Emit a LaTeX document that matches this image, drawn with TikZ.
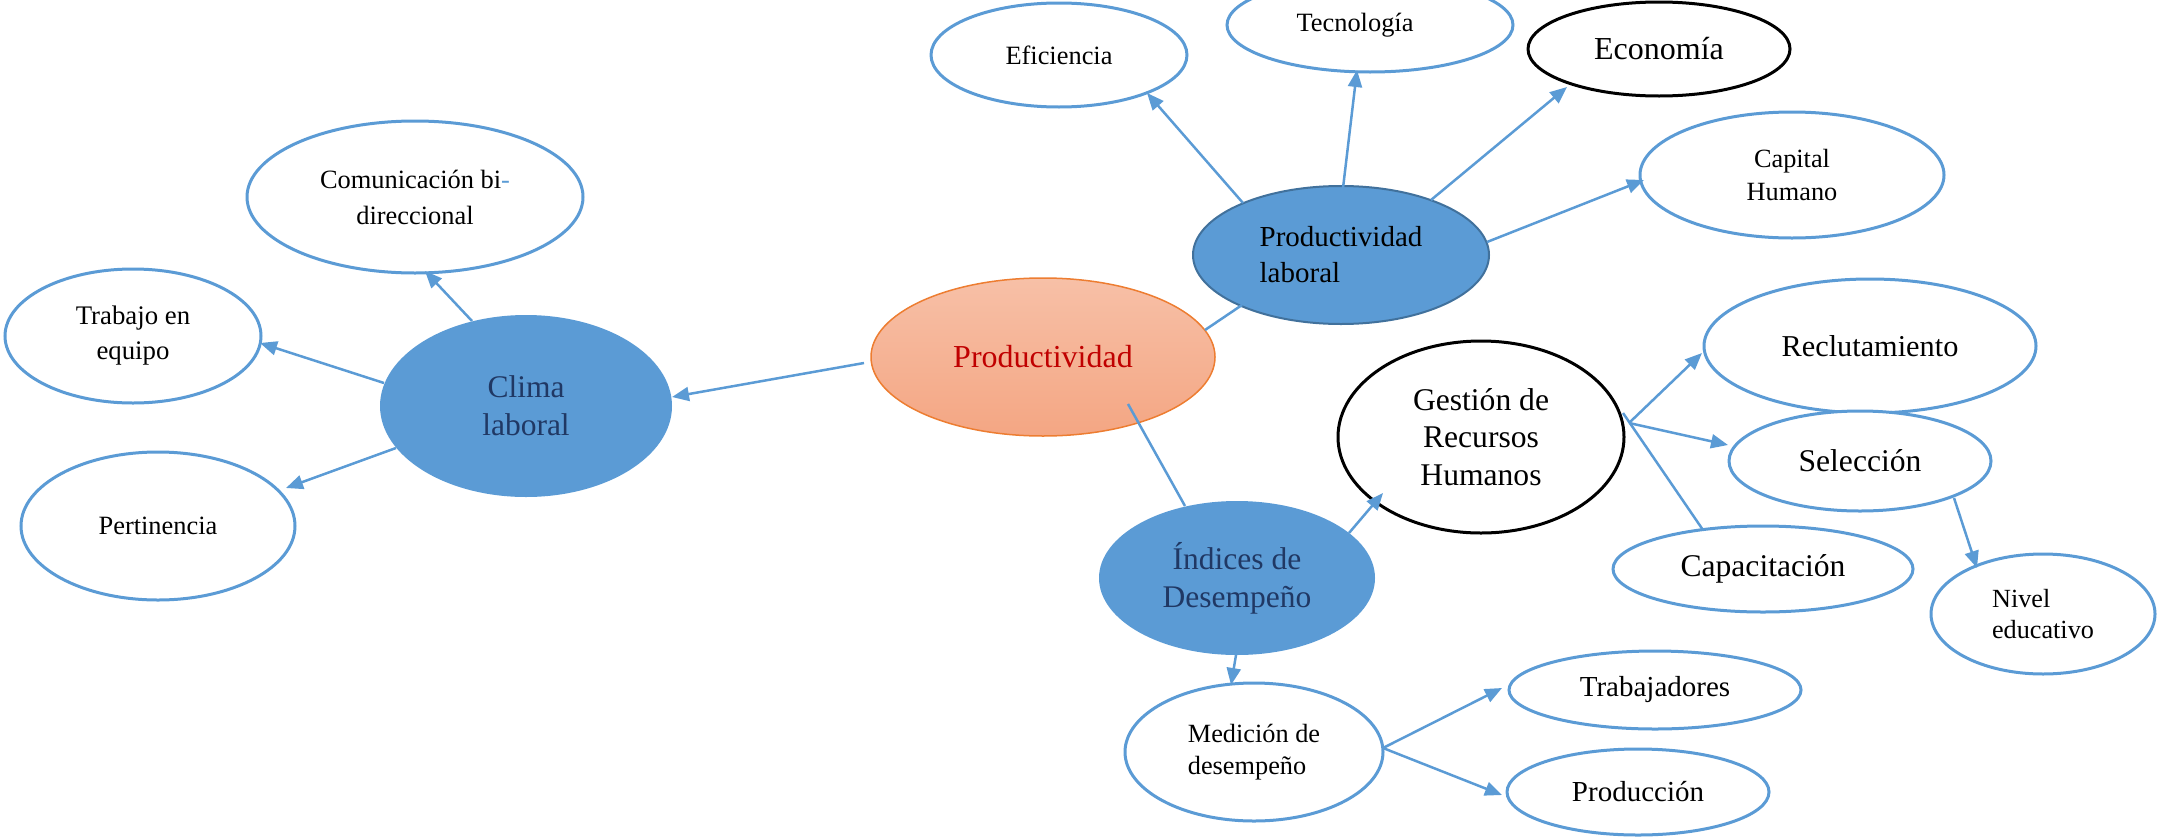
\documentclass[tikz,border=0pt]{standalone}
\usepackage{fontspec}
\setmainfont{Liberation Serif}
\usetikzlibrary{shapes.geometric,arrows.meta,calc}

\definecolor{linkblue}{HTML}{5B9BD5}
\definecolor{edgeblue}{HTML}{41719C}
\definecolor{navytext}{HTML}{203864}
\definecolor{prodred}{HTML}{C00000}
\definecolor{orangeedge}{HTML}{ED7D31}
\definecolor{peachtop}{HTML}{F7C0A7}
\definecolor{peachbot}{HTML}{F4A683}

\tikzset{
  bubble/.style={ellipse, draw=linkblue, line width=3pt, fill=white,
    inner sep=0pt, align=center, font=\fontsize{26.4}{34}\selectfont},
  inkbubble/.style={bubble, draw=black},
  solidbubble/.style={ellipse, fill=linkblue, inner sep=0pt, align=center,
    text=navytext, font=\fontsize{31.5}{38}\selectfont},
  big/.style={font=\fontsize{31.6}{38}\selectfont},
  link/.style={draw=linkblue, line width=2.5pt},
  arrowlink/.style={link, -{Triangle[length=17pt,width=14pt]}},
}

\begin{document}
\begin{tikzpicture}[x=1pt,y=1pt]
\useasboundingbox (0,0) rectangle (2157,-838);

% central concept
\node[ellipse, draw=orangeedge, line width=1.5pt, top color=peachtop,
  bottom color=peachbot, text=prodred, inner sep=0pt,
  font=\fontsize{32}{38}\selectfont,
  minimum width=344pt, minimum height=158pt] (prod) at (1043,-357) {Productividad};

% main branches
\node[ellipse, fill=linkblue, draw=edgeblue, line width=2pt, inner sep=0pt,
  align=left, font=\fontsize{29}{36}\selectfont,
  minimum width=296pt, minimum height=138pt] (plab) at (1341,-255) {Productividad\\laboral};
\node[solidbubble, minimum width=292pt, minimum height=182pt] (clima) at (526,-406) {Clima\\laboral};
\node[solidbubble, minimum width=276pt, minimum height=154pt] (ind) at (1237,-578) {Índices de\\Desempeño};

% clima laboral
\node[bubble, font=\fontsize{26.4}{36}\selectfont, minimum width=336pt, minimum height=152pt]
  (com) at (415,-197) {Comunicación bi{\color{linkblue}-}\\direccional};
\node[bubble, font=\fontsize{26.8}{35}\selectfont, minimum width=256pt, minimum height=134pt]
  (trab) at (133,-336) {Trabajo en\\equipo};
\node[bubble, minimum width=274pt, minimum height=148pt] (pert) at (158,-526) {Pertinencia};

% productividad laboral
\node[bubble, minimum width=256pt, minimum height=104pt] (efi) at (1059,-55) {Eficiencia};
\node[bubble, minimum width=286pt, minimum height=94pt] (tec) at (1370,-25) {Tecnología\hspace*{30pt}};
\node[inkbubble, font=\fontsize{32}{38}\selectfont, minimum width=262pt, minimum height=94pt]
  (eco) at (1659,-49) {Economía};
\node[bubble, font=\fontsize{26.3}{33}\selectfont, minimum width=304pt, minimum height=126pt]
  (cap) at (1792,-175) {Capital\\Humano};

% indices de desempeno
\node[inkbubble, font=\fontsize{31.6}{37.5}\selectfont, minimum width=286pt, minimum height=192pt]
  (grh) at (1481,-437) {Gestión de\\Recursos\\Humanos};
\node[bubble, font=\fontsize{30.3}{36}\selectfont, minimum width=332pt, minimum height=134pt]
  (rec) at (1870,-346) {Reclutamiento};
\node[bubble, big, minimum width=262pt, minimum height=100pt] (sel) at (1860,-461) {Selección};
\node[bubble, big, minimum width=300pt, minimum height=86pt] (capa) at (1763,-569) {Capacitación};
\node[bubble, align=left, font=\fontsize{26.2}{31}\selectfont, minimum width=224pt, minimum height=120pt]
  (niv) at (2043,-614) {Nivel\\educativo};
\node[bubble, align=left, font=\fontsize{26.3}{32}\selectfont, minimum width=258pt, minimum height=138pt]
  (med) at (1254,-752) {Medición de\\desempeño};
\node[bubble, font=\fontsize{29}{35}\selectfont, minimum width=292pt, minimum height=78pt]
  (trabj) at (1655,-690) {Trabajadores};
\node[bubble, font=\fontsize{29}{35}\selectfont, minimum width=262pt, minimum height=86pt]
  (prodn) at (1638,-792) {Producción};

% fork points
\coordinate (grhfork) at ($(grh)+(148,14)$);
\coordinate (medfork) at ($(med)+(129,4)$);

% connectors
\draw[arrowlink] ($(prod)+(-179,-6)$) -- ($(clima)+(146,9)$);
\draw[link] ($(prod)+(162,27)$) -- ($(plab)+(-99,-50)$);
\draw[link] ($(prod)+(85,-47)$) -- ($(ind)+(-52,72)$);

\draw[arrowlink] ($(plab)+(-98,52)$) -- ($(efi)+(88,-38)$);
\draw[arrowlink] ($(plab)+(2,67)$) -- ($(tec)+(-13,-45)$);
\draw[arrowlink] ($(plab)+(90,55)$) -- ($(eco)+(-92,-38)$);
\draw[arrowlink] ($(plab)+(146,13)$) -- ($(cap)+(-148,-5)$);

\draw[arrowlink] ($(clima)+(-54,85)$) -- ($(com)+(10,-74)$);
\draw[arrowlink] ($(clima)+(-142,23)$) -- ($(trab)+(127,-7)$);
\draw[arrowlink] ($(clima)+(-130,-42)$) -- ($(pert)+(128,38)$);

\draw[arrowlink] ($(ind)+(112,45)$) -- ($(grh)+(-98,-56)$);
\draw[arrowlink] ($(ind)+(-1,-77)$) -- ($(med)+(-23,67)$);

\draw[arrowlink] (medfork) -- ($(trabj)+(-153,2)$);
\draw[arrowlink] (medfork) -- ($(prodn)+(-136,-3)$);

\draw[arrowlink] (grhfork) -- ($(rec)+(-168,-7)$);
\draw[arrowlink] (grhfork) -- ($(sel)+(-132,16)$);
\draw[link] ($(grh)+(142,24)$) -- ($(capa)+(-60,39)$);
\draw[arrowlink] ($(sel)+(94,-37)$) -- ($(niv)+(-66,46)$);
\end{tikzpicture}
\end{document}
